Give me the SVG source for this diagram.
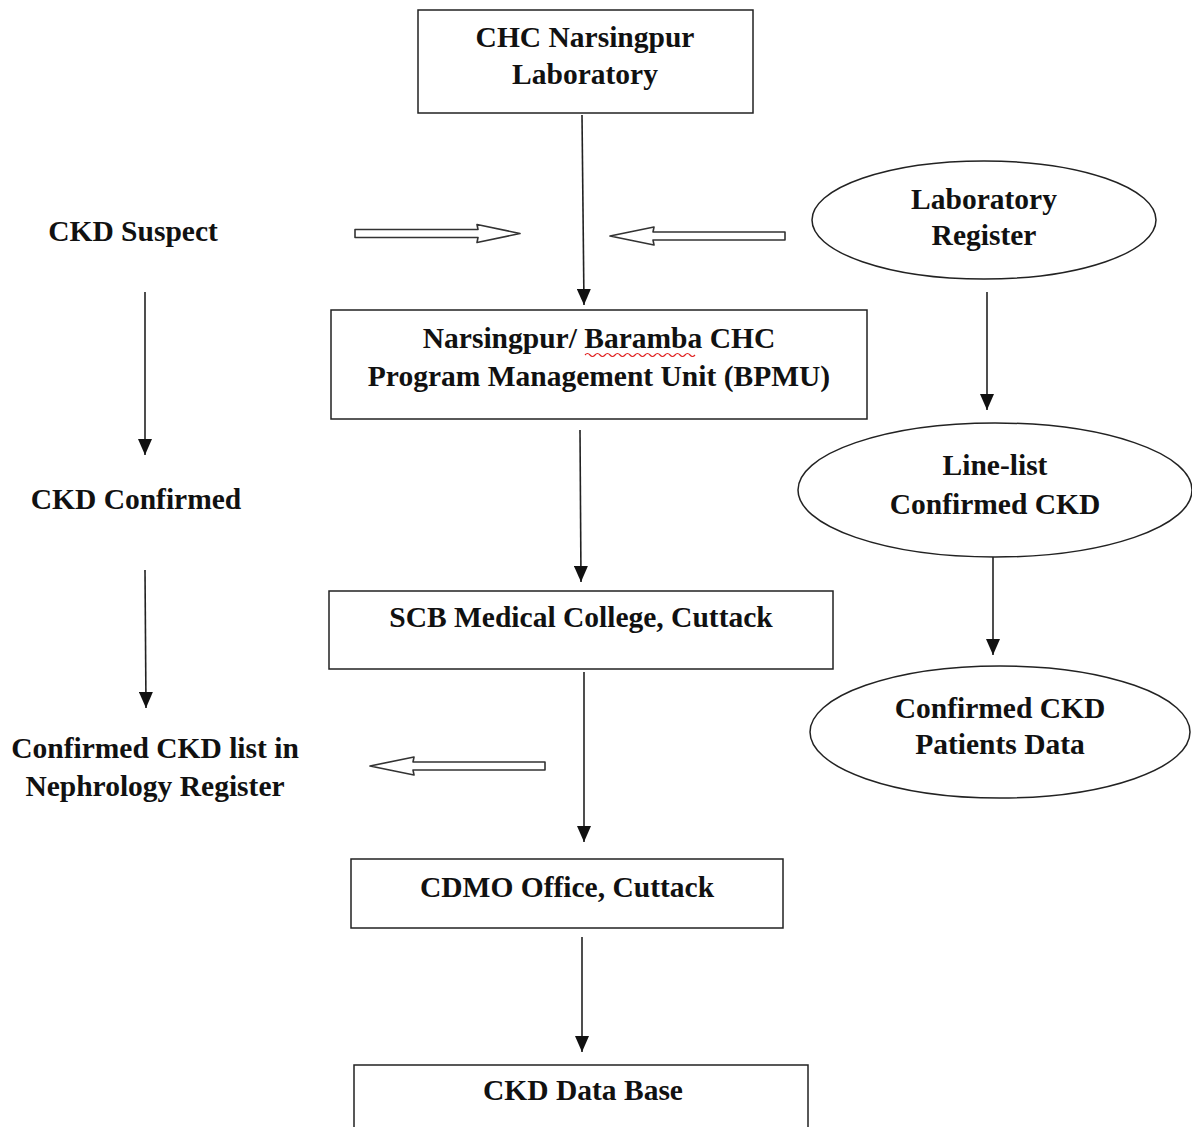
<svg xmlns="http://www.w3.org/2000/svg" width="1192" height="1127" viewBox="0 0 1192 1127">
<defs>
<style>
text{font-family:"Liberation Serif","Times New Roman",serif;font-weight:bold;font-size:29.5px;fill:#111;text-anchor:middle}
.box{fill:#fff;stroke:#222;stroke-width:1.5}
.ell{fill:#fff;stroke:#222;stroke-width:1.5}
.ln{stroke:#222;stroke-width:1.6;fill:none}
.hollow{fill:#fff;stroke:#333;stroke-width:1.6;stroke-linejoin:round}
</style>
<marker id="ahd" viewBox="0 0 16 14" refX="16" refY="7" markerWidth="17" markerHeight="14" markerUnits="userSpaceOnUse" orient="auto">
<path d="M0,0 L16,7 L0,14 Z" fill="#111"/>
</marker>
</defs>
<rect width="1192" height="1127" fill="#fff"/>

<g id="connectors">
<line class="ln" x1="582" y1="115" x2="584" y2="305" marker-end="url(#ahd)"/>
<line class="ln" x1="145" y1="292" x2="145" y2="455" marker-end="url(#ahd)"/>
<line class="ln" x1="987" y1="292" x2="987" y2="410" marker-end="url(#ahd)"/>
<line class="ln" x1="580" y1="430" x2="581" y2="582" marker-end="url(#ahd)"/>
<line class="ln" x1="993" y1="546" x2="993" y2="655" marker-end="url(#ahd)"/>
<line class="ln" x1="145" y1="570" x2="146" y2="708" marker-end="url(#ahd)"/>
<line class="ln" x1="584" y1="672" x2="584" y2="842" marker-end="url(#ahd)"/>
<line class="ln" x1="582" y1="937" x2="582" y2="1052" marker-end="url(#ahd)"/>
<polygon class="hollow" points="355,229.5 478,229.5 477,224.5 520,233.5 477,242.5 478,237.5 355,237.5"/>
<polygon class="hollow" points="785,232 653,232 654,227 610,236 654,245 653,240 785,240"/>
<polygon class="hollow" points="545,762 413,762 414,757 370,766 414,775 413,770 545,770"/>
</g>

<g id="n-chc-lab">
<rect class="box" x="418" y="10" width="335" height="103"/>
<text x="585" y="47">CHC Narsingpur</text>
<text x="585" y="84">Laboratory</text>
</g>

<g id="n-ckd-suspect">
<text x="133" y="241">CKD Suspect</text>
</g>

<g id="n-lab-register">
<ellipse class="ell" cx="984" cy="220" rx="172" ry="59"/>
<text x="984" y="209">Laboratory</text>
<text x="984" y="245">Register</text>
</g>

<g id="n-bpmu">
<rect class="box" x="331" y="310" width="536" height="109"/>
<text x="599" y="348">Narsingpur/ Baramba CHC</text>
<text x="599" y="386">Program Management Unit (BPMU)</text>
<path d="M585,355 q2.5,-3 5,0 t5,0 t5,0 t5,0 t5,0 t5,0 t5,0 t5,0 t5,0 t5,0 t5,0 t5,0 t5,0 t5,0 t5,0 t5,0 t5,0 t5,0 t5,0 t5,0 t5,0 t5,0" fill="none" stroke="#e02020" stroke-width="1.2"/>
</g>

<g id="n-ckd-confirmed">
<text x="136" y="509">CKD Confirmed</text>
</g>

<g id="n-line-list">
<ellipse class="ell" cx="995" cy="490" rx="197" ry="67"/>
<text x="995" y="475">Line-list</text>
<text x="995" y="514">Confirmed CKD</text>
</g>

<g id="n-scb">
<rect class="box" x="329" y="591" width="504" height="78"/>
<text x="581" y="627">SCB Medical College, Cuttack</text>
</g>

<g id="n-patients-data">
<ellipse class="ell" cx="1000" cy="732" rx="190" ry="66"/>
<text x="1000" y="718">Confirmed CKD</text>
<text x="1000" y="754">Patients Data</text>
</g>

<g id="n-nephro">
<text x="155" y="758">Confirmed CKD list in</text>
<text x="155" y="796">Nephrology Register</text>
</g>

<g id="n-cdmo">
<rect class="box" x="351" y="859" width="432" height="69"/>
<text x="567" y="897">CDMO Office, Cuttack</text>
</g>

<g id="n-database">
<rect class="box" x="354" y="1065" width="454" height="70"/>
<text x="583" y="1100">CKD Data Base</text>
</g>
</svg>
